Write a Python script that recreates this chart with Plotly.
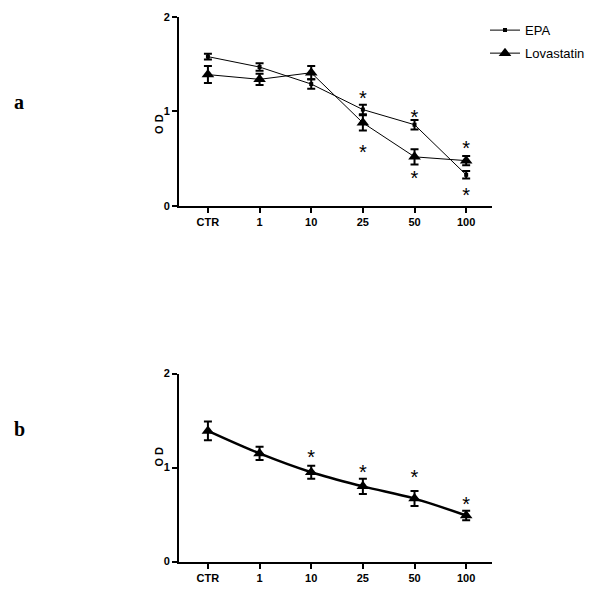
import plotly.graph_objects as go

categories = ["CTR", "1", "10", "25", "50", "100"]
xpos = [0, 1, 2, 3, 4, 5]

# Panel a
epa_a = [1.58, 1.47, 1.29, 1.02, 0.86, 0.33]
epa_a_err = [0.03, 0.04, 0.05, 0.05, 0.05, 0.04]
lova_a = [1.39, 1.34, 1.41, 0.88, 0.52, 0.48]
lova_a_err = [0.09, 0.06, 0.07, 0.08, 0.08, 0.05]
stars_a_x = [3, 3, 4, 4, 5, 5]
stars_a_y = [1.12, 0.55, 0.92, 0.27, 0.59, 0.10]

# Panel b
lova_b = [1.39, 1.15, 0.95, 0.80, 0.67, 0.49]
lova_b_err = [0.10, 0.07, 0.07, 0.08, 0.08, 0.05]
stars_b_x = [2, 3, 4, 5]
stars_b_y = [1.09, 0.93, 0.88, 0.59]

# page body has an 8px default margin; size the figure to fit the window
OFF = 8
W, H = 600 - OFF, 597 - OFF


def px(p):
    return (p - OFF) / W


def py(p):
    return 1 - (p - OFF) / H


fig = go.Figure()

err_style = dict(type="data", thickness=2, width=4, color="black")
star_font = dict(family="Liberation Sans", size=20, color="black")

fig.add_trace(go.Scatter(x=xpos, y=epa_a, name="EPA", mode="lines+markers",
                         line=dict(color="black", width=1),
                         marker=dict(symbol="square", size=4, color="black"),
                         error_y=dict(array=epa_a_err, **err_style),
                         xaxis="x", yaxis="y", legend="legend"))
fig.add_trace(go.Scatter(x=xpos, y=lova_a, name="Lovastatin", mode="lines+markers",
                         line=dict(color="black", width=1),
                         marker=dict(symbol="triangle-up", size=11, color="black"),
                         error_y=dict(array=lova_a_err, **err_style),
                         xaxis="x", yaxis="y", legend="legend2"))
fig.add_trace(go.Scatter(x=stars_a_x, y=stars_a_y, mode="text", text=["*"] * len(stars_a_x),
                         textfont=star_font,
                         showlegend=False, xaxis="x", yaxis="y", hoverinfo="skip"))

fig.add_trace(go.Scatter(x=xpos, y=lova_b, name="Lovastatin b", mode="lines+markers",
                         line=dict(color="black", width=2.5, shape="spline"),
                         marker=dict(symbol="triangle-up", size=11, color="black"),
                         error_y=dict(array=lova_b_err, **err_style),
                         showlegend=False, xaxis="x2", yaxis="y2"))
fig.add_trace(go.Scatter(x=stars_b_x, y=stars_b_y, mode="text", text=["*"] * len(stars_b_x),
                         textfont=star_font,
                         showlegend=False, xaxis="x2", yaxis="y2", hoverinfo="skip"))

xdom = [px(179), px(492)]
tickfont = dict(family="Liberation Sans", size=11, color="black")
xcommon = dict(domain=xdom, range=[-0.56, 5.5], tickmode="array", tickvals=xpos,
               ticktext=["<b>%s</b>" % c for c in categories],
               showline=True, linewidth=2, linecolor="black", ticks="outside",
               ticklen=5, tickwidth=2, tickcolor="black", showgrid=False,
               zeroline=False, tickfont=tickfont, fixedrange=True)
ycommon = dict(range=[0, 2], tickmode="array", tickvals=[0, 1, 2],
               ticktext=["<b>0</b>", "<b>1</b>", "<b>2</b>"],
               showline=True, linewidth=2, linecolor="black", ticks="outside",
               ticklen=5, tickwidth=2, tickcolor="black", showgrid=False,
               zeroline=False, tickfont=tickfont, fixedrange=True)

legend_common = dict(xanchor="left", yanchor="middle",
                     font=dict(family="Liberation Sans", size=13, color="black"),
                     bgcolor="rgba(0,0,0,0)", itemwidth=30)

fig.update_layout(
    width=W, height=H,
    margin=dict(l=0, r=0, t=0, b=0),
    paper_bgcolor="white", plot_bgcolor="white",
    xaxis=dict(anchor="y", **xcommon),
    yaxis=dict(anchor="x", domain=[py(204), py(11)], **ycommon),
    xaxis2=dict(anchor="y2", **xcommon),
    yaxis2=dict(anchor="x2", domain=[py(567), py(375)], **ycommon),
    legend=dict(x=px(485), y=py(24.5), **legend_common),
    legend2=dict(x=px(485), y=py(48), **legend_common),
    showlegend=True,
    annotations=[
        dict(text="<b>O D</b>", x=px(151), y=py(108), xref="paper", yref="paper",
             textangle=-90, showarrow=False, font=dict(family="Liberation Sans", size=11, color="black")),
        dict(text="<b>O D</b>", x=px(151), y=py(472), xref="paper", yref="paper",
             textangle=-90, showarrow=False, font=dict(family="Liberation Sans", size=11, color="black")),
        dict(text="<b>a</b>", x=px(12), y=py(85), xref="paper", yref="paper",
             showarrow=False, font=dict(family="Liberation Serif", size=20, color="black")),
        dict(text="<b>b</b>", x=px(12), y=py(445), xref="paper", yref="paper",
             showarrow=False, font=dict(family="Liberation Serif", size=20, color="black")),
    ],
)

fig.write_html("out.html")
